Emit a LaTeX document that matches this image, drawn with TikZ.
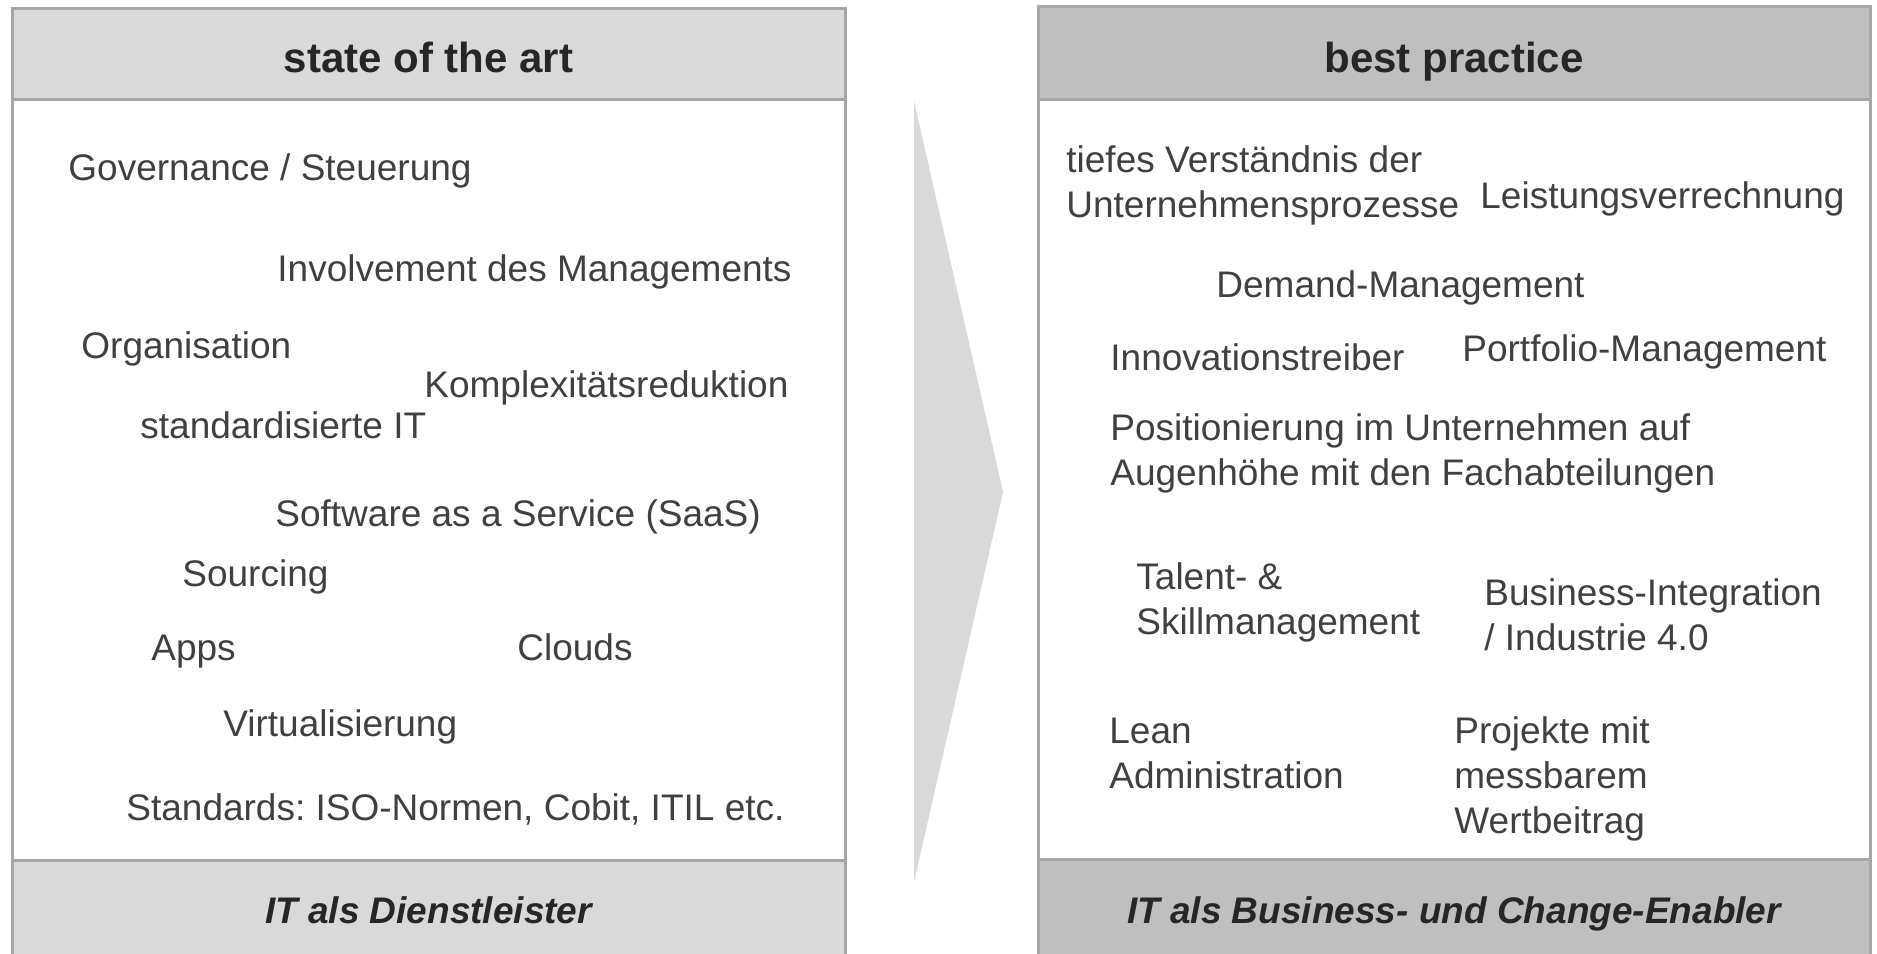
\documentclass[tikz,border=0pt]{standalone}
\usepackage{fontspec}
\setmainfont{Liberation Sans}
\frenchspacing
\definecolor{lightHead}{HTML}{D9D9D9}
\definecolor{darkHead}{HTML}{BFBFBF}
\definecolor{frameGray}{HTML}{A6A6A6}
\definecolor{bodyText}{HTML}{404040}
\definecolor{titleText}{HTML}{262626}
\newcommand{\itemlines}[1]{\begin{tabular}[t]{@{}l@{}}#1\end{tabular}}

\begin{document}
\begin{tikzpicture}[x=0.5pt, y=-0.5pt,
  item/.style={anchor=base west, inner sep=0pt, text=bodyText, font=\fontsize{18.5}{22.5}\selectfont},
  title/.style={anchor=base, inner sep=0pt, text=titleText, font=\fontsize{21}{25}\selectfont\bfseries},
  motto/.style={anchor=base, inner sep=0pt, text=titleText, font=\fontsize{18.5}{22.5}\selectfont\bfseries\itshape},
  frame/.style={draw=frameGray, line width=1.5pt}]
\useasboundingbox (0,0) rectangle (1877,953);

% arrow between the two columns
\fill[lightHead] (914,101) -- (1003,492) -- (914,882) -- cycle;

% left column
\fill[lightHead] (12,8) rectangle (845,99);
\fill[lightHead] (12,860) rectangle (845,965);
\draw[frame] (12,965) -- (12,8) -- (845,8) -- (845,965);
\draw[frame] (12,99) -- (845,99);
\draw[frame] (12,860) -- (845,860);
\node[title] (artTitle) at (428.5,72) {state of the art};
\node[motto] (artFoot) at (428.5,923) {IT als Dienstleister};

\node[item] (governance) at (68,180) {Governance / Steuerung};
\node[item] (involvement) at (277,281) {Involvement des Managements};
\node[item] (organisation) at (81,358) {Organisation};
\node[item] (complexity) at (424,397) {Komplexitätsreduktion};
\node[item] (standardIT) at (140,438) {standardisierte IT};
\node[item] (saas) at (275,526) {Software as a Service (SaaS)};
\node[item] (sourcing) at (182,586) {Sourcing};
\node[item] (apps) at (151,660) {Apps};
\node[item] (clouds) at (517,660) {Clouds};
\node[item] (virtual) at (223,736) {Virtualisierung};
\node[item] (norms) at (126,820) {Standards: ISO-Normen, Cobit, ITIL etc.};

% right column
\fill[darkHead] (1038,6) rectangle (1870,99);
\fill[darkHead] (1038,859) rectangle (1870,965);
\draw[frame] (1038,965) -- (1038,6) -- (1870,6) -- (1870,965);
\draw[frame] (1038,99) -- (1870,99);
\draw[frame] (1038,859) -- (1870,859);
\node[title] (bestTitle) at (1454,72) {best practice};
\node[motto] (bestFoot) at (1454,923) {IT als Business- und Change-Enabler};

\node[item] (processes) at (1066,172) {\itemlines{tiefes Verständnis der\\Unternehmensprozesse}};
\node[item] (billing) at (1480,208) {Leistungsverrechnung};
\node[item] (demand) at (1216,297) {Demand-Management};
\node[item] (innovation) at (1110,370) {Innovationstreiber};
\node[item] (portfolio) at (1462,361) {Portfolio-Management};
\node[item] (position) at (1110,440) {\itemlines{Positionierung im Unternehmen auf\\Augenhöhe mit den Fachabteilungen}};
\node[item] (talent) at (1136,589) {\itemlines{Talent- \&\\Skillmanagement}};
\node[item] (business) at (1484,605) {\itemlines{Business-Integration\\/ Industrie 4.0}};
\node[item] (lean) at (1109,743) {\itemlines{Lean\\Administration}};
\node[item] (projects) at (1454,743) {\itemlines{Projekte mit\\messbarem\\Wertbeitrag}};
\end{tikzpicture}
\end{document}
